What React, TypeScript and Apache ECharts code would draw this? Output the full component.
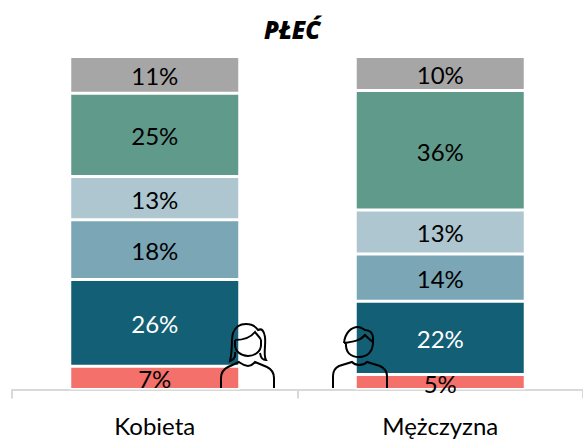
import React, { useEffect, useRef } from "react";
import * as echarts from "echarts";

const categories = ["Kobieta", "Mężczyzna"];
const red = [7, 4.5];
const dark = [26, 22];
const mid = [18, 14.2];
const light = [13, 13.2];
const green = [25, 35.9];
const grey = [11, 10.2];

const stacks = [
  { data: red, color: "#f4706b", text: "#000" },
  { data: dark, color: "#135f75", text: "#fff" },
  { data: mid, color: "#7ba6b5", text: "#000" },
  { data: light, color: "#adc6d0", text: "#000" },
  { data: green, color: "#5f9a8b", text: "#000" },
  { data: grey, color: "#a6a6a6", text: "#000" },
];

const FONT = "Lato, Roboto, sans-serif";

const woman =
  "M221 388 L221 378 C221 372 224 369 228 367 L239 362 C242 364 244 366 248 366 C252 366 253 364 255 362 L267 367 C271 369 274 372 274 378 L274 388 " +
  "M235 340 C244 340 251 337 255 332 C257 335 260 337 261 340 " +
  "M235 345 a13 11 0 1 0 26 0 L261 340 M235 345 L235 340 " +
  "M235 352 C236 358 233 360 230 361 C233 348 231 340 233 333 C236 325 243 324 246 324 C252 324 256 327 258 330 C262 328 264 331 265 337 C266 346 263 355 266 360 C263 360 261 359 260 353";
const man =
  "M333 388 L333 376 C333 371 335 368 339 366 L352 362 C354 364 356 365 359 365 C362 365 365 364 367 362 L380 366 C384 368 387 371 387 376 L387 388 " +
  "M346 342 C345 353 351 357 359 357 C368 357 373 351 373 342 " +
  "M344 343 C345 333 351 327 358 327 C361 327 363 329 365 330 C371 330 373 334 373 339 L373 342 C370 340 368 338 365 335 C360 341 352 342 344 343";

echarts.graphic.registerShape("woman", echarts.graphic.extendPath(woman as any, {}) as any);
echarts.graphic.registerShape("man", echarts.graphic.extendPath(man as any, {}) as any);

export default function App() {
  const ref = useRef<HTMLDivElement>(null);
  useEffect(() => {
    const chart = echarts.init(ref.current!, undefined, { renderer: "svg" });
    chart.setOption({
      animation: false,
      backgroundColor: "#fff",
      title: {
        text: "PŁEĆ",
        left: 259,
        top: 12,
        textStyle: { fontFamily: "'Open Sans', sans-serif", fontSize: 24, fontWeight: 800, fontStyle: "italic", color: "#000" },
      },
      grid: { left: 12, right: -1, top: 56.5, bottom: 49.5 },
      xAxis: {
        type: "category",
        data: categories,
        axisLine: { lineStyle: { color: "#d9d9d9", width: 2 } },
        axisTick: { show: true, length: 9, lineStyle: { color: "#d9d9d9", width: 2 } },
        axisLabel: { fontFamily: FONT, fontSize: 24, fontWeight: 400, color: "#000", margin: 24 },
      },
      yAxis: { type: "value", min: 0, max: 100, show: false },
      series: stacks.map((s) => ({
        type: "bar",
        stack: "all",
        data: s.data,
        barWidth: 170,
        itemStyle: { color: s.color, borderColor: "#fff", borderWidth: 1.5 },
        label: {
          show: true,
          position: "inside",
          offset: [0, 1],
          formatter: (p: any) => Math.round(p.value) + "%",
          fontFamily: FONT,
          fontSize: 24,
          fontWeight: 400,
          color: s.text,
          textBorderWidth: 0,
        },
      })),
      graphic: [
        { type: "woman", z: 100, style: { fill: "none", stroke: "#000", lineWidth: 2 } },
        { type: "man", z: 100, style: { fill: "none", stroke: "#000", lineWidth: 2 } },
      ],
    });
    return () => chart.dispose();
  }, []);
  return <div ref={ref} style={{ position: "fixed", left: 0, top: 0, width: 583, height: 439 }} />;
}
